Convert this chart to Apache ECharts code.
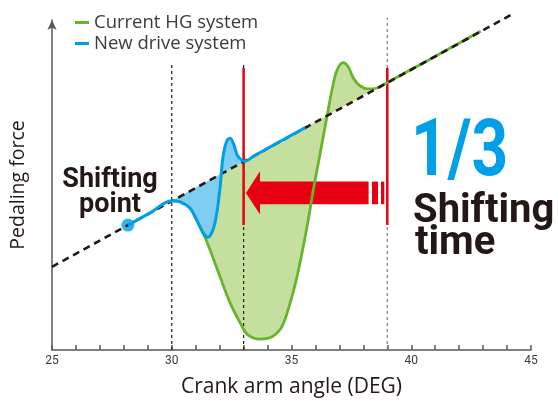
<!DOCTYPE html>
<html>
<head>
<meta charset="utf-8">
<script src="https://cdn.jsdelivr.net/npm/echarts@6/dist/echarts.min.js"></script>
<style>
html, body { margin: 0; padding: 0; background: #fff; }
#chart { width: 558px; height: 403px; }
</style>
</head>
<body>
<div id="chart"></div>
<script>
// x: crank arm angle (deg), y: pedaling force (relative, no scale shown)
const refLine = [[25, 25.2], [44.15, 101.5]];
const hgCurve = [
  [30.0, 45.2], [30.35, 44.9], [30.76, 43.0], [31.04, 39.4], [31.31, 35.5],
  [31.6, 30.3], [32.02, 22.1], [32.44, 14.2], [32.86, 8.2], [33.19, 4.5],
  [33.7, 3.3], [34.18, 4.0], [34.6, 7.1], [34.94, 14.2], [35.23, 22.2],
  [35.49, 31.3], [35.7, 39.4], [35.91, 48.5], [36.2, 59.7], [36.48, 70.7],
  [36.69, 78.8], [36.9, 84.8], [37.16, 87.1], [37.37, 85.8], [37.58, 82.4],
  [37.87, 80.0], [38.21, 79.1], [38.57, 79.4], [38.99, 81.0], [40.5, 87.0],
  [42.9, 96.6]
];
const newCurve = [
  [28.17, 37.85], [29.1, 41.56], [30.0, 45.2], [30.35, 44.9], [30.76, 43.0],
  [31.04, 39.4], [31.31, 35.5], [31.51, 34.2], [31.72, 36.4], [31.88, 41.5],
  [32.02, 49.4], [32.14, 58.5], [32.3, 63.4], [32.44, 64.2], [32.6, 62.1],
  [32.73, 59.1], [32.92, 57.5], [33.02, 57.2], [33.5, 59.1], [34.3, 62.3],
  [35.0, 65.1], [35.57, 67.4]
];
const shiftPoint = [28.17, 37.85];
// [x, yFrom, yTo]
const guideLines = [[30, 0, 87.3], [33, 0, 87.3], [39, 0, 100.6]];
const redMarks = [[33, 37.9, 85.5], [39, 37.9, 85.5]];
// [tip x, tail x, y]
const shiftArrow = [[33.1, 38.22, 47.6]];

const FONT = 'Roboto';
const LABEL_FONT = 'Open Sans';
const DARK = '#231815';
const GREEN = '#6ab42d';
const BLUE = '#00a0e9';
const RED = '#e60012';

const chart = echarts.init(document.getElementById('chart'));

function fillSeries(points, color) {
  return {
    type: 'custom',
    silent: true,
    data: [0],
    renderItem: function (params, api) {
      return {
        type: 'polygon',
        shape: { points: points.map(p => api.coord(p)) },
        style: { fill: color }
      };
    }
  };
}

function vLineSeries(list, color, dash, width) {
  return {
    type: 'custom',
    silent: true,
    data: list,
    encode: { x: 0, y: [1, 2] },
    renderItem: function (params, api) {
      const a = api.coord([api.value(0), api.value(1)]);
      const b = api.coord([api.value(0), api.value(2)]);
      return {
        type: 'line',
        shape: { x1: a[0], y1: a[1], x2: b[0], y2: b[1] },
        style: { stroke: color, lineWidth: width, lineDash: dash }
      };
    }
  };
}

const blueFill = newCurve.filter(p => p[0] >= 30 && p[0] <= 33.02);

const option = {
  animation: false,
  grid: { left: 52, right: 27, top: 20, bottom: 53, outerBoundsMode: 'none' },
  legend: {
    data: ['Current HG system', 'New drive system'],
    orient: 'vertical',
    left: 70,
    top: 8,
    icon: 'rect',
    itemWidth: 14,
    itemHeight: 3,
    itemGap: 2,
    textStyle: { fontFamily: LABEL_FONT, fontSize: 18.5, color: '#3e3a39' }
  },
  xAxis: {
    type: 'value',
    min: 25,
    max: 45,
    interval: 5,
    name: 'Crank arm angle (DEG)',
    nameLocation: 'middle',
    nameGap: 27,
    nameTextStyle: { fontFamily: LABEL_FONT, fontSize: 21, color: DARK },
    axisLine: { lineStyle: { color: '#595757', width: 1.5 } },
    axisTick: { inside: true, length: 5, lineStyle: { color: '#595757', width: 1.5 } },
    minorTick: { show: true, splitNumber: 5, length: 5, lineStyle: { color: '#595757', width: 1.5 } },
    axisLabel: { fontFamily: FONT, fontSize: 12, color: '#3e3a39', margin: 5 },
    splitLine: { show: false }
  },
  yAxis: {
    type: 'value',
    min: 0,
    max: 100,
    name: 'Pedaling force',
    nameLocation: 'middle',
    nameGap: 24,
    nameTextStyle: { fontFamily: LABEL_FONT, fontSize: 19.5, color: DARK },
    axisLine: {
      show: true,
      symbol: ['none', 'arrow'],
      symbolSize: [7, 10],
      lineStyle: { color: '#595757', width: 1.5 }
    },
    axisTick: { show: false },
    axisLabel: { show: false },
    splitLine: { show: false }
  },
  graphic: [
    {
      type: 'text', x: 110, y: 168,
      style: {
        text: 'Shifting\npoint', fill: DARK, align: 'center', verticalAlign: 'top',
        fontFamily: FONT, fontWeight: 'bold', fontSize: 27, lineHeight: 25
      }
    },
    {
      type: 'text', x: 411, y: 155, scaleX: 0.8,
      style: {
        text: '1/3', fill: BLUE, align: 'left', verticalAlign: 'middle',
        fontFamily: FONT, fontWeight: 'bold', fontSize: 80
      }
    },
    {
      type: 'text', x: 413, y: 212,
      style: {
        text: 'Shifting', fill: DARK, align: 'left', verticalAlign: 'middle',
        fontFamily: FONT, fontWeight: 'bold', fontSize: 40
      }
    },
    {
      type: 'text', x: 415, y: 244,
      style: {
        text: 'time', fill: DARK, align: 'left', verticalAlign: 'middle',
        fontFamily: FONT, fontWeight: 'bold', fontSize: 40
      }
    }
  ],
  series: [
    fillSeries(hgCurve, '#c5df9f'),
    fillSeries(blueFill, '#80cdf2'),
    vLineSeries(guideLines.slice(0, 2), DARK, [3, 3], 1.2),
    vLineSeries(guideLines.slice(2), '#7d7d7d', [3, 3], 1.2),
    {
      name: 'Current HG system',
      type: 'line',
      data: hgCurve,
      smooth: 0.35,
      symbol: 'none',
      clip: false,
      lineStyle: { color: GREEN, width: 2.8 },
      itemStyle: { color: GREEN }
    },
    {
      type: 'line',
      data: refLine,
      symbol: 'none',
      clip: false,
      silent: true,
      lineStyle: { color: DARK, width: 2.6, type: [7, 5] }
    },
    {
      name: 'New drive system',
      type: 'line',
      data: newCurve,
      smooth: 0.35,
      symbol: 'none',
      clip: false,
      lineStyle: { color: BLUE, width: 3 },
      itemStyle: { color: BLUE }
    },
    {
      type: 'scatter',
      data: [shiftPoint],
      symbolSize: 13,
      itemStyle: { color: BLUE }
    },
    vLineSeries(redMarks, RED, null, 2.5),
    {
      type: 'custom',
      silent: true,
      data: shiftArrow,
      encode: { x: [0, 1], y: 2 },
      renderItem: function (params, api) {
        const tip = api.coord([api.value(0), api.value(2)]);
        const tail = api.coord([api.value(1), api.value(2)]);
        const x = tip[0], y = tip[1], hl = 14, hh = 21.7, sh = 11.3;
        return {
          type: 'group',
          children: [
            {
              type: 'polygon',
              shape: { points: [[x, y], [x + hl, y - hh], [x + hl, y - sh], [tail[0], y - sh],
                                [tail[0], y + sh], [x + hl, y + sh], [x + hl, y + hh]] },
              style: { fill: RED }
            },
            { type: 'rect', shape: { x: tail[0] + 3.4, y: y - sh, width: 6, height: sh * 2 }, style: { fill: RED } },
            { type: 'rect', shape: { x: tail[0] + 12.4, y: y - sh, width: 3.3, height: sh * 2 }, style: { fill: RED } }
          ]
        };
      }
    }
  ]
};

chart.setOption(option);
</script>
</body>
</html>
